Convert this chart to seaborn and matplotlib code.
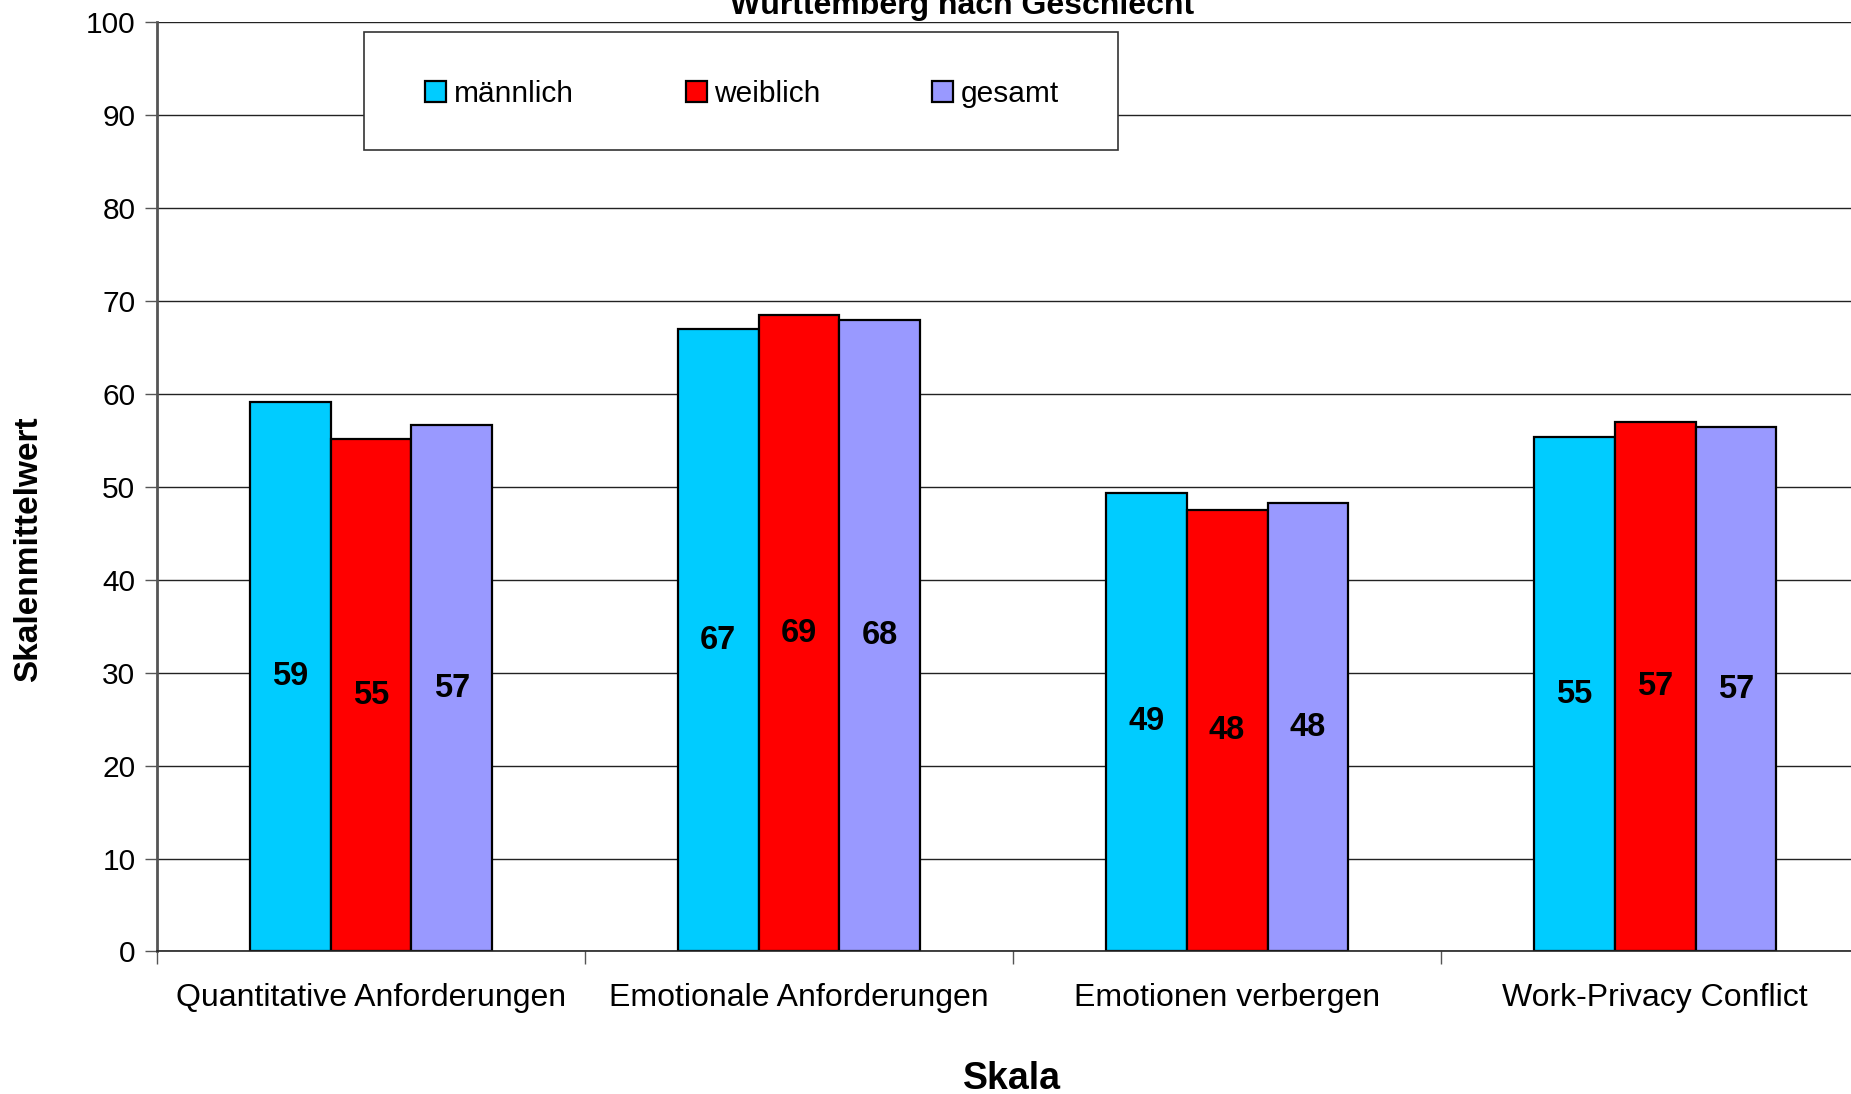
import matplotlib
matplotlib.use("Agg")
import matplotlib.pyplot as plt
import seaborn as sns
import pandas as pd
from matplotlib.patches import Rectangle
from matplotlib.ticker import FixedLocator

categories = ["Quantitative Anforderungen", "Emotionale Anforderungen",
              "Emotionen verbergen", "Work-Privacy Conflict"]
series = ["männlich", "weiblich", "gesamt"]
maennlich = [59.1, 67.0, 49.4, 55.4]
weiblich = [55.2, 68.5, 47.5, 57.0]
gesamt = [56.7, 68.0, 48.3, 56.5]
colors = ["#00CCFF", "#FF0000", "#9999FF"]
y_ticks = [0, 10, 20, 30, 40, 50, 60, 70, 80, 90, 100]
title_text = "Württemberg nach Geschlecht"
ylabel_text = "Skalenmittelwert"
xlabel_text = "Skala"

sns.set_theme(style="white")
plt.rcParams["font.family"] = ["Liberation Sans", "DejaVu Sans"]
plt.rcParams["text.color"] = "black"
plt.rcParams["axes.labelcolor"] = "black"
plt.rcParams["xtick.color"] = "black"
plt.rcParams["ytick.color"] = "black"

rows = []
for s, vals in zip(series, [maennlich, weiblich, gesamt]):
    for c, v in zip(categories, vals):
        rows.append({"Skala": c, "Geschlecht": s, "Wert": v})
df = pd.DataFrame(rows)

fig = plt.figure(figsize=(18.51, 10.94), dpi=100)
ax = fig.add_axes([0.0848, 0.1303, 0.925, 0.8492])

sns.barplot(data=df, x="Skala", y="Wert", hue="Geschlecht",
            order=categories, hue_order=series, palette=colors,
            width=0.567, edgecolor="black", linewidth=1.6,
            errorbar=None, ax=ax, saturation=1)

for cont in ax.containers:
    labels = [f"{int(b.get_height() + 0.5)}" for b in cont]
    ax.bar_label(cont, labels=labels, label_type="center",
                 fontsize=23.5, fontweight="bold", color="black")

ax.set_ylim(0, 100)
ax.set_xlim(-0.5, 3.5)
ax.set_yticks(y_ticks)
ax.yaxis.grid(True, color="#222222", linewidth=1.0)
ax.set_axisbelow(True)
ax.tick_params(axis="y", which="major", left=True, length=9, width=1,
               color="#555555", labelcolor="black", labelsize=21.5, pad=6.5,
               direction="out")
ax.xaxis.set_minor_locator(FixedLocator([-0.5, 0.5, 1.5, 2.5, 3.5]))
ax.tick_params(axis="x", which="major", bottom=True, length=0, labelsize=23,
               labelcolor="black", pad=23)
ax.tick_params(axis="x", which="minor", bottom=True, length=9, width=1,
               color="#555555", direction="out")
for sp in ["top", "right"]:
    ax.spines[sp].set_visible(False)
ax.spines["left"].set_color("#555555")
ax.spines["left"].set_linewidth(2)
ax.spines["bottom"].set_color("#222222")
ax.spines["bottom"].set_linewidth(1.2)

ax.set_ylabel(ylabel_text, fontsize=24, fontweight="bold", color="black")
ax.yaxis.set_label_coords(-0.066, 0.433)
ax.set_xlabel(xlabel_text, fontsize=27, fontweight="bold", color="black")
ax.xaxis.set_label_coords(0.4994, -0.118)

handles, labs = ax.get_legend_handles_labels()
if ax.get_legend() is not None:
    ax.get_legend().remove()

# legend box
fig.patches.append(Rectangle((363.6 / 1851, 1 - 150 / 1094),
                             (1118 - 363.6) / 1851, (150 - 32) / 1094,
                             transform=fig.transFigure, facecolor="white",
                             edgecolor="#333333", linewidth=1.2, zorder=5))
leg = fig.legend(handles, labs, loc="center", bbox_to_anchor=(0.401, 0.914),
                 ncol=3, frameon=False, fontsize=21.5, columnspacing=3.75,
                 handletextpad=0.25, handlelength=0.7, handleheight=0.7)
leg.set_zorder(6)
for t in leg.get_texts():
    t.set_color("black")

fig.text(0.52, 1 - 14 / 1094, title_text, ha="center", va="baseline",
         fontsize=23, fontweight="bold", color="black")

fig.savefig("out.png", dpi=100)
